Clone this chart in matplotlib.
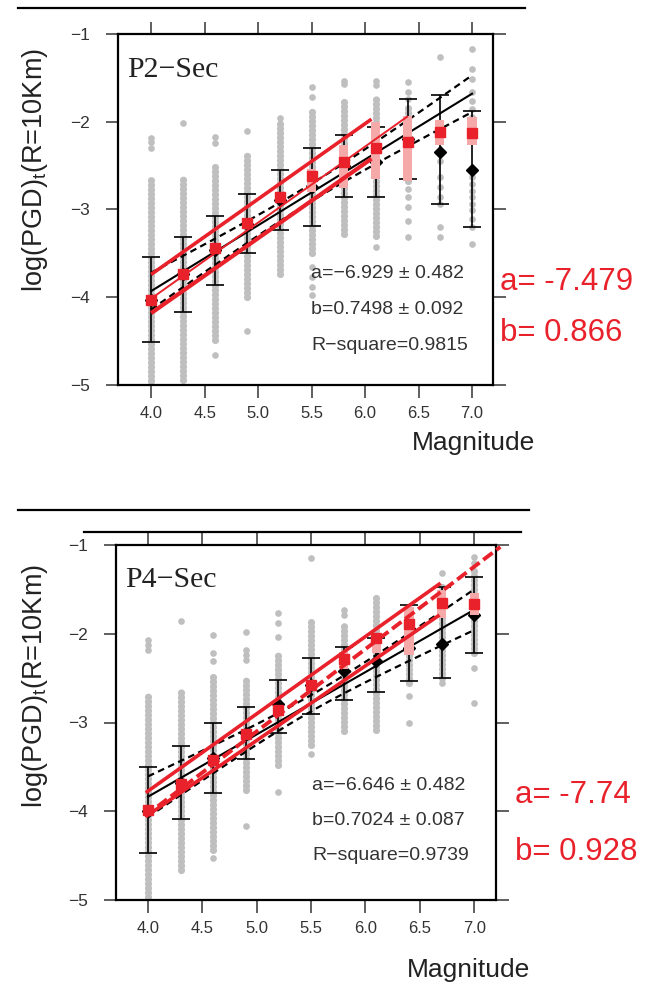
import numpy as np
import matplotlib
matplotlib.use("Agg")
import matplotlib.pyplot as plt
from matplotlib.lines import Line2D
from matplotlib.ticker import FormatStrFormatter, FuncFormatter

plt.rcParams['font.family'] = ['Liberation Sans', 'DejaVu Sans']

W, H = 645, 989
RED = '#e8212b'
PINK = '#f5aaa9'
GRAY = '#bfbfbf'

mags = [4.0, 4.3, 4.6, 4.9, 5.2, 5.5, 5.8, 6.1, 6.4, 6.7, 7.0]

# ---------------- P2-Sec (top) ----------------
p2_strip_hi = [-2.63, -2.63, -2.47, -2.34, -1.98, -1.88, -1.75, -1.74, -1.82, None, None]
p2_strip_lo = [-5.00, -4.94, -4.49, -4.00, -3.73, -3.50, -3.28, -3.30, -2.68, None, None]
p2_extra = [
    [-2.19, -2.23, -2.30],
    [-2.01],
    [-2.17, -2.24, -4.66],
    [-2.11, -4.38],
    [-1.96],
    [-1.60, -1.72, -3.65, -3.77, -3.88, -3.97],
    [-1.54, -1.57],
    [-1.54, -1.58, -3.43],
    [-1.55, -1.66, -1.74, -2.77, -2.86, -2.97, -3.13, -3.31],
    [-1.26, -2.03, -2.11, -2.17, -2.45, -2.63, -2.74, -2.86, -2.94, -3.20, -3.31],
    [-1.17, -1.40, -1.51, -1.66, -1.76, -1.85, -1.95, -2.63, -2.71, -2.79, -2.86,
     -2.94, -3.01, -3.11, -3.20, -3.39],
]
p2_mean = [-4.03, -3.74, -3.46, -3.16, -2.89, -2.74, -2.50, -2.46, -2.20, -2.34, -2.55]
p2_cap_top = [-3.54, -3.31, -3.07, -2.82, -2.55, -2.30, -2.15, -2.06, -1.74, -1.70, -1.88]
p2_cap_bot = [-4.51, -4.17, -3.86, -3.50, -3.23, -3.19, -2.86, -2.86, -2.65, -2.94, -3.20]
p2_red = [-4.03, -3.73, -3.44, -3.15, -2.86, -2.62, -2.46, -2.30, -2.23, -2.12, -2.13]
p2_box_m = [5.5, 5.8, 6.1, 6.4, 6.7, 7.0]
p2_box_hi = [-2.54, -2.27, -2.00, -1.93, -1.98, -1.95]
p2_box_lo = [-2.80, -2.75, -2.65, -2.67, -2.27, -2.26]
p2_fit = (-6.929, 0.7498)
p2_band = (0.123, 0.66)
# (a, b, from, to, style, width)
p2_red_lines = [(-7.176, 0.859, 4.0, 6.06, '-', 2.6),
                (-7.479, 0.866, 4.0, 6.40, '-', 1.4),
                (-7.597, 0.854, 4.0, 6.06, '-', 3.0)]

# ---------------- P4-Sec (bottom) ----------------
p4_strip_hi = [-2.67, -2.63, -2.49, -2.52, -2.20, -1.87, -1.88, -1.60, -1.75, -1.45, -1.25]
p4_strip_lo = [-4.97, -4.66, -4.44, -3.76, -3.48, -3.25, -3.10, -3.08, -2.55, -2.50, -2.22]
p4_extra = [
    [-2.07, -2.13, -2.18],
    [-1.86],
    [-2.01, -2.22, -2.31, -4.53],
    [-1.98, -2.18, -2.24, -2.30, -4.17],
    [-1.77, -1.88, -2.04, -3.78],
    [-1.15, -3.35],
    [-1.73, -1.79],
    [],
    [-1.71, -2.70, -3.00],
    [-1.32, -2.55],
    [-1.14, -1.20, -2.39, -2.78],
]
p4_mean = [-4.00, -3.68, -3.40, -3.12, -2.79, -2.58, -2.42, -2.31, -2.16, -2.12, -1.79]
p4_cap_top = [-3.50, -3.26, -3.00, -2.82, -2.52, -2.27, -2.15, -2.05, -1.68, -1.47, -1.36]
p4_cap_bot = [-4.47, -4.09, -3.79, -3.41, -3.12, -2.90, -2.75, -2.66, -2.53, -2.50, -2.22]
p4_red = [-3.99, -3.69, -3.42, -3.13, -2.86, -2.58, -2.29, -2.05, -1.89, -1.65, -1.66]
p4_box_m = [5.8, 6.1, 6.4, 6.7, 7.0]
p4_box_hi = [-2.20, -1.99, -1.70, -1.51, -1.54]
p4_box_lo = [-2.40, -2.22, -2.24, -1.82, -1.79]
p4_fit = (-6.646, 0.7024)
p4_band = (0.140, 0.43)
p4_red_lines = [(-7.257, 0.871, 3.98, 6.69, '-', 2.6),
                (-7.740, 0.928, 3.97, 7.24, (0, (3, 1.2)), 2.8),
                (-7.407, 0.841, 3.98, 6.68, '-', 2.6)]


def px(x, y):
    return x / W, 1 - y / H


def draw_panel(ax, strip_hi, strip_lo, extra, mean, cap_top, cap_bot, red,
               box_m, box_hi, box_lo, fit, band, red_lines, xlim):
    for m, hi, lo, ex in zip(mags, strip_hi, strip_lo, extra):
        if hi is not None:
            ax.plot([m, m], [lo, hi], color=GRAY, lw=5.2,
                    linestyle=(0, (0.01, 0.62)), dash_capstyle='round', zorder=1)
        if ex:
            ax.plot([m] * len(ex), ex, 'o', ms=4.8, color=GRAY, mec='none', zorder=1)

    mean = np.array(mean)
    err = [mean - np.array(cap_bot), np.array(cap_top) - mean]
    ax.errorbar(mags, mean, yerr=err, fmt='none', ecolor='black',
                elinewidth=1.2, capsize=6.5, capthick=1.2, zorder=2)
    ax.plot(mags, mean, 'D', color='black', ms=6, zorder=2)

    a, b = fit
    xx = np.linspace(4.0, 7.0, 60)
    ax.plot(xx, a + b * xx, color='black', lw=1.5, zorder=3)
    s, k = band
    hw = s * np.sqrt(k + (xx - 5.5) ** 2)
    for sign in (1, -1):
        ax.plot(xx, a + b * xx + sign * hw, color='black', lw=1.6,
                ls=(0, (3, 2)), zorder=3)

    ax.bar(box_m, np.array(box_hi) - np.array(box_lo), bottom=box_lo,
           width=0.085, color=PINK, zorder=4)

    for ra, rb, x0, x1, ls, lw in red_lines:
        rx = np.array([x0, x1])
        ax.plot(rx, ra + rb * rx, color=RED, lw=lw, ls=ls, zorder=5,
                clip_on=False, solid_capstyle='butt')

    ax.plot(mags, red, 's', color=RED, ms=7.6, zorder=6)

    ax.set_xlim(*xlim)
    ax.set_ylim(-5, -1)
    ax.set_xticks([4.0, 4.5, 5.0, 5.5, 6.0, 6.5, 7.0])
    ax.set_yticks([-5, -4, -3, -2, -1])
    ax.xaxis.set_major_formatter(FormatStrFormatter('%.1f'))
    ax.yaxis.set_major_formatter(FuncFormatter(lambda v, p: '\u2212%d' % abs(v)))
    ax.tick_params(direction='out', length=9, width=1.2, color='#444444',
                   top=True, right=True, labeltop=False, labelright=False,
                   labelcolor='#333333')
    ax.tick_params(axis='x', labelsize=12, pad=6)
    ax.tick_params(axis='y', labelsize=12.5, pad=11)
    for sp in ax.spines.values():
        sp.set_linewidth(1.6)
        sp.set_color('black')


fig = plt.figure(figsize=(W / 100, H / 100), dpi=100)

ax1 = fig.add_axes([118 / W, 1 - 385 / H, (493 - 118) / W, (385 - 34) / H])
draw_panel(ax1, p2_strip_hi, p2_strip_lo, p2_extra, p2_mean, p2_cap_top,
           p2_cap_bot, p2_red, p2_box_m, p2_box_hi, p2_box_lo, p2_fit,
           p2_band, p2_red_lines, (3.69, 7.196))

ax2 = fig.add_axes([116 / W, 1 - 900 / H, (496 - 116) / W, (900 - 545) / H])
draw_panel(ax2, p4_strip_hi, p4_strip_lo, p4_extra, p4_mean, p4_cap_top,
           p4_cap_bot, p4_red, p4_box_m, p4_box_hi, p4_box_lo, p4_fit,
           p4_band, p4_red_lines, (3.706, 7.20))

# horizontal rules above the panels
for x0, x1, y in [(18, 525, 8), (18, 529, 510), (84, 521, 532)]:
    (fx0, fy), (fx1, _) = px(x0, y), px(x1, y)
    fig.add_artist(Line2D([fx0, fx1], [fy, fy], color='black', lw=1.6))

ylab = 'log(PGD)$\\mathregular{_t}$(R=10Km)'
fig.text(*px(35, 170), ylab, rotation=90, ha='center', va='center', fontsize=19.5,
         color='#222222')
fig.text(*px(35, 686), ylab, rotation=90, ha='center', va='center', fontsize=19.5,
         color='#222222')

fig.text(*px(474, 443), 'Magnitude', ha='center', va='center', fontsize=19, color='#222222')
fig.text(*px(468, 970), 'Magnitude', ha='center', va='center', fontsize=19, color='#222222')

fig.text(*px(127, 70), 'P2\u2212Sec', ha='left', va='center', fontsize=21.5,
         family='Liberation Serif', color='#222222')
fig.text(*px(125, 580), 'P4\u2212Sec', ha='left', va='center', fontsize=21.5,
         family='Liberation Serif', color='#222222')

for x, y0, lines in [(311, 274, ['a=\u22126.929 \u00b1 0.482', 'b=0.7498 \u00b1 0.092',
                                 'R\u2212square=0.9815']),
                     (312, 785, ['a=\u22126.646 \u00b1 0.482', 'b=0.7024 \u00b1 0.087',
                                 'R\u2212square=0.9739'])]:
    for i, t in enumerate(lines):
        fig.text(*px(x, y0 + i * 35.5), t, ha='left', va='center', fontsize=14,
                 color='#333333')

fig.text(*px(500, 282), 'a= -7.479', ha='left', va='center', fontsize=22.5, color=RED)
fig.text(*px(500, 333), 'b= 0.866', ha='left', va='center', fontsize=22.5, color=RED)
fig.text(*px(515, 795), 'a= -7.74', ha='left', va='center', fontsize=22.5, color=RED)
fig.text(*px(515, 852), 'b= 0.928', ha='left', va='center', fontsize=22.5, color=RED)

fig.savefig('out.png', dpi=100)
